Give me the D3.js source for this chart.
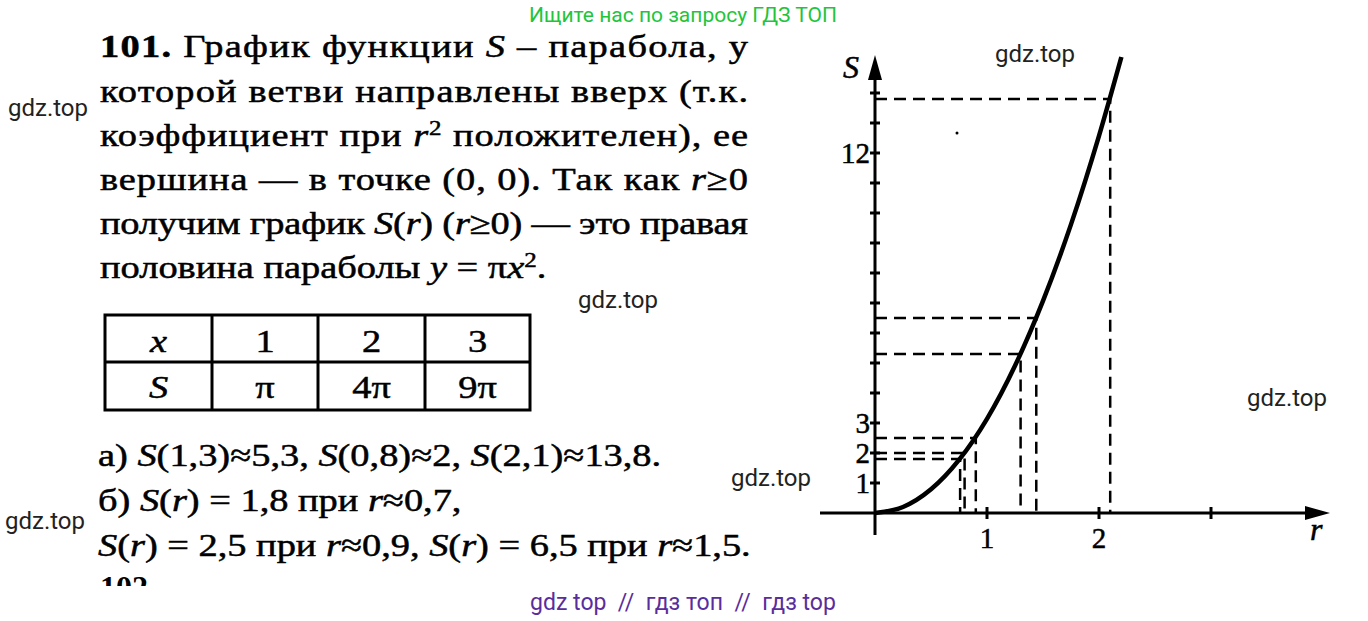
<!DOCTYPE html>
<html><head><meta charset="utf-8">
<script src="https://cdn.jsdelivr.net/npm/d3@7"></script>
<style>body{margin:0;background:#fff}svg{display:block}text{white-space:pre}</style>
</head><body><svg id="c" width="1368" height="621"></svg>
<script>
// ---- data ----
const curveR = [0,0.25,0.5,0.75,1,1.25,1.5,1.75,2,2.2];
const curveS = [0,0.2,0.79,1.77,3.14,4.91,7.07,9.62,12.57,15.2];
const guideR = [0.76,0.8,0.9,1.3,1.44,2.1];
const guideS = [1.8,2,2.5,5.3,6.5,13.8];
const yTicks = [1,2,3,4,5,6,7,8,9,10,11,12,13,14];
const yTickLabels = {1:"1",2:"2",3:"3",12:"12"};
const xTicks = [1,2,3];
const xTickLabels = {1:"1",2:"2"};
const tableHead = ["x","1","2","3"];
const tableRow = ["S","π","4π","9π"];

const svg = d3.select("#c");
const x = d3.scaleLinear().domain([0,1]).range([875,987]);
const y = d3.scaleLinear().domain([0,1]).range([513,483]);
const serif = "'Liberation Serif','Times New Roman',serif";
const SX = 1.2;

// ---- text block ----
const para = [
  [[ "101. ",0,0,1],["График функции ",0],["S",1],[" – парабола, у",0]],
  [["которой ветви направлены вверх (т.к.",0]],
  [["коэффициент при ",0],["r",1],["2",0,1],[" положителен), ее",0]],
  [["вершина — в точке (0, 0). Так как ",0],["r",1],["≥0",0]],
  [["получим график ",0],["S",1],["(",0],["r",1],[") (",0],["r",1],["≥0) — это правая",0]],
  [["половина параболы ",0],["y",1],[" = π",0],["x",1],["2",0,1],[".",0]]
];
const paraY=[57,102,146,190,234,278];
function writeLine(segs, x0, yb, fs, width){
  const t = svg.append("text").attr("transform",`translate(${x0},${yb}) scale(${SX},1)`)
    .attr("font-family",serif).attr("font-size",fs).attr("fill","#000")
    .attr("stroke","#000").attr("stroke-width",0.5);
  if(width) t.attr("textLength",width/SX).attr("lengthAdjust","spacing");
  segs.forEach(s=>{
    const ts=t.append("tspan").text(s[0]);
    if(s[1]) ts.attr("font-style","italic");
    if(s[2]) ts.attr("baseline-shift","super").attr("font-size",fs*0.65);
    if(s[3]) ts.attr("font-weight","bold");
  });
  return t;
}
para.forEach((l,i)=>writeLine(l,100,paraY[i],32,i<5?648:null));

// table
const cols=[105,212,318,425,530], rows=[315,362,410];
svg.append("rect").attr("x",cols[0]).attr("y",rows[0]).attr("width",cols[4]-cols[0]).attr("height",rows[2]-rows[0])
  .attr("fill","none").attr("stroke","#000").attr("stroke-width",3);
cols.slice(1,4).forEach(c=>svg.append("line").attr("x1",c).attr("x2",c).attr("y1",rows[0]).attr("y2",rows[2]).attr("stroke","#000").attr("stroke-width",3));
svg.append("line").attr("x1",cols[0]).attr("x2",cols[4]).attr("y1",rows[1]).attr("y2",rows[1]).attr("stroke","#000").attr("stroke-width",3);
[tableHead,tableRow].forEach((r,ri)=>r.forEach((v,ci)=>{
  svg.append("text").attr("transform",`translate(${(cols[ci]+cols[ci+1])/2},${ri?398:352}) scale(${SX},1)`).attr("text-anchor","middle")
   .attr("font-family",serif).attr("font-size",32).attr("stroke","#000").attr("stroke-width",0.5)
   .attr("font-style",ci==0?"italic":"normal").text(v);
}));

writeLine([["а) ",0],["S",1],["(1,3)≈5,3, ",0],["S",1],["(0,8)≈2, ",0],["S",1],["(2,1)≈13,8.",0]],98,466,32,null);
writeLine([["б) ",0],["S",1],["(",0],["r",1],[") = 1,8 при ",0],["r",1],["≈0,7,",0]],98,511,32,null);
writeLine([["S",1],["(",0],["r",1],[") = 2,5 при ",0],["r",1],["≈0,9, ",0],["S",1],["(",0],["r",1],[") = 6,5 при ",0],["r",1],["≈1,5.",0]],98,556,32,null);
svg.append("clipPath").attr("id","cp").append("rect").attr("x",0).attr("y",572).attr("width",300).attr("height",14);
svg.append("text").attr("clip-path","url(#cp)").attr("x",100).attr("y",598).attr("font-family",serif).attr("font-weight","bold").attr("font-size",32).text("102");

// ---- chart ----
const g=svg.append("g");
g.append("line").attr("x1",820).attr("x2",1318).attr("y1",y(0)).attr("y2",y(0)).attr("stroke","#000").attr("stroke-width",3);
g.append("line").attr("x1",x(0)).attr("x2",x(0)).attr("y1",535).attr("y2",68).attr("stroke","#000").attr("stroke-width",3);
g.append("path").attr("d",`M${x(0)-7},80 L${x(0)},55 L${x(0)+7},80 Z`).attr("fill","#000");
g.append("path").attr("d",`M1305,506 L1330,513 L1305,520 Z`).attr("fill","#000");
yTicks.forEach(t=>{
  g.append("line").attr("x1",x(0)-5).attr("x2",x(0)+5).attr("y1",y(t)).attr("y2",y(t)).attr("stroke","#000").attr("stroke-width",3);
  if(yTickLabels[t]) g.append("text").attr("x",x(0)-5).attr("y",y(t)+10).attr("text-anchor","end")
    .attr("font-family",serif).attr("font-size",29).attr("stroke","#000").attr("stroke-width",0.5).text(yTickLabels[t]);
});
xTicks.forEach(t=>{
  g.append("line").attr("x1",x(t)).attr("x2",x(t)).attr("y1",y(0)-6).attr("y2",y(0)+6).attr("stroke","#000").attr("stroke-width",3);
  if(xTickLabels[t]) g.append("text").attr("x",x(t)).attr("y",548).attr("text-anchor","middle")
    .attr("font-family",serif).attr("font-size",29).attr("stroke","#000").attr("stroke-width",0.5).text(xTickLabels[t]);
});
g.append("text").attr("x",843).attr("y",78).attr("font-family",serif).attr("font-style","italic").attr("font-size",32).attr("stroke","#000").attr("stroke-width",0.5).text("S");
g.append("text").attr("x",1310).attr("y",540).attr("font-family",serif).attr("font-style","italic").attr("font-size",32).attr("stroke","#000").attr("stroke-width",0.5).text("r");
guideR.forEach((r,i)=>{
  const s=guideS[i];
  g.append("path").attr("d",`M${x(0)},${y(s)} H${x(r)} V${y(0)}`).attr("fill","none")
    .attr("stroke","#000").attr("stroke-width",2.5).attr("stroke-dasharray","12,7");
});
g.append("path").datum(curveR.map((r,i)=>[r,curveS[i]]))
  .attr("d",d3.line().x(d=>x(d[0])).y(d=>y(d[1])).curve(d3.curveMonotoneX))
  .attr("fill","none").attr("stroke","#000").attr("stroke-width",4.5);
g.append("circle").attr("cx",957).attr("cy",133).attr("r",1.5).attr("fill","#000");

// ---- watermarks ----
const sans="Roboto,'Noto Sans',sans-serif";
[[995,62],[8,116],[578,308],[1247,406],[731,486],[5,529]].forEach(p=>
  svg.append("text").attr("x",p[0]).attr("y",p[1]).attr("font-family",sans).attr("font-size",24).attr("fill","#222").text("gdz.top"));
svg.append("text").attr("x",683).attr("y",22).attr("text-anchor","middle").attr("font-family",sans).attr("font-size",21).attr("fill","#22c43c").text("Ищите нас по запросу ГДЗ ТОП");
svg.append("text").attr("x",683).attr("y",610).attr("text-anchor","middle").attr("font-family",sans).attr("font-size",23).attr("fill","#5a2d9c").text("gdz top  //  гдз топ  //  гдз top");
</script></body></html>
